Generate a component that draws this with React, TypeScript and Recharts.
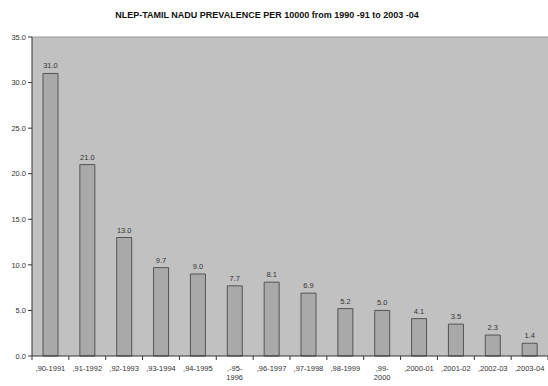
import React from "react";
import {
  BarChart,
  Bar,
  XAxis,
  YAxis,
  CartesianGrid,
  LabelList,
  ReferenceLine,
} from "recharts";

const TITLE = "NLEP-TAMIL NADU PREVALENCE PER 10000 from 1990 -91 to 2003 -04";

const YEARS = [
  ",90-1991",
  ",91-1992",
  ",92-1993",
  ",93-1994",
  ",94-1995",
  ",-95- 1996",
  ",96-1997",
  ",97-1998",
  ",98-1999",
  ",99- 2000",
  ",2000-01",
  ",2001-02",
  ",2002-03",
  ",2003-04",
];

const PREVALENCE = [31.0, 21.0, 13.0, 9.7, 9.0, 7.7, 8.1, 6.9, 5.2, 5.0, 4.1, 3.5, 2.3, 1.4];

const Y_TICKS = [0, 5, 10, 15, 20, 25, 30, 35];

const data = YEARS.map((year, i) => ({ year, value: PREVALENCE[i] }));

const FONT = "'Liberation Sans', Arial, sans-serif";
const W = 548;
const H = 386;
const AXIS_W = 32;
const BAND = (W - AXIS_W) / YEARS.length;

const YearTick = (props: any) => {
  const { x, y, payload, index } = props;
  const lines = String(payload.value).split(" ");
  const top = y - 8;
  return (
    <g>
      <line x1={x - BAND / 2} x2={x - BAND / 2} y1={top} y2={top + 4} stroke="#333" />
      {index === YEARS.length - 1 && (
        <line x1={x + BAND / 2} x2={x + BAND / 2} y1={top} y2={top + 4} stroke="#333" />
      )}
      <text x={x} y={y} textAnchor="middle" fontSize={7.5} fill="#333" fontFamily={FONT}>
        {lines.map((l: string, i: number) => (
          <tspan key={i} x={x} dy={i === 0 ? 7 : 9}>
            {l}
          </tspan>
        ))}
      </text>
    </g>
  );
};

const App: React.FC = () => {
  return (
    <div style={{ position: "absolute", left: 0, top: 0, width: W, height: H, background: "#fff" }}>
      <div
        style={{
          position: "absolute",
          left: 0,
          top: 10,
          width: 534,
          textAlign: "center",
          fontFamily: FONT,
          fontWeight: "bold",
          fontSize: 9,
          color: "#111",
        }}
      >
        {TITLE}
      </div>
      <BarChart
        width={W}
        height={H}
        data={data}
        margin={{ top: 37, right: 0, bottom: 0, left: 0 }}
      >
        <CartesianGrid fill="#c1c1c1" horizontal={false} vertical={false} />
        <XAxis
          dataKey="year"
          height={30}
          interval={0}
          tick={<YearTick />}
          tickLine={false}
          axisLine={{ stroke: "#333" }}
        />
        <YAxis
          width={AXIS_W}
          domain={[0, 35]}
          ticks={Y_TICKS}
          interval={0}
          tickFormatter={(v: number) => v.toFixed(1)}
          tick={{ fontSize: 7.5, fill: "#333", fontFamily: FONT }}
          tickLine={{ stroke: "#333" }}
          tickSize={4}
          tickMargin={2}
          axisLine={{ stroke: "#333" }}
        />
        <ReferenceLine y={35} stroke="#9a9a9a" />
        <Bar dataKey="value" fill="#a9a9a9" stroke="#555" strokeWidth={1} barSize={15} isAnimationActive={false}>
          <LabelList
            dataKey="value"
            position="top"
            offset={5}
            formatter={(v: any) => Number(v).toFixed(1)}
            style={{ fontSize: 7.5, fill: "#333", fontFamily: FONT }}
          />
        </Bar>
      </BarChart>
    </div>
  );
};

export default App;
